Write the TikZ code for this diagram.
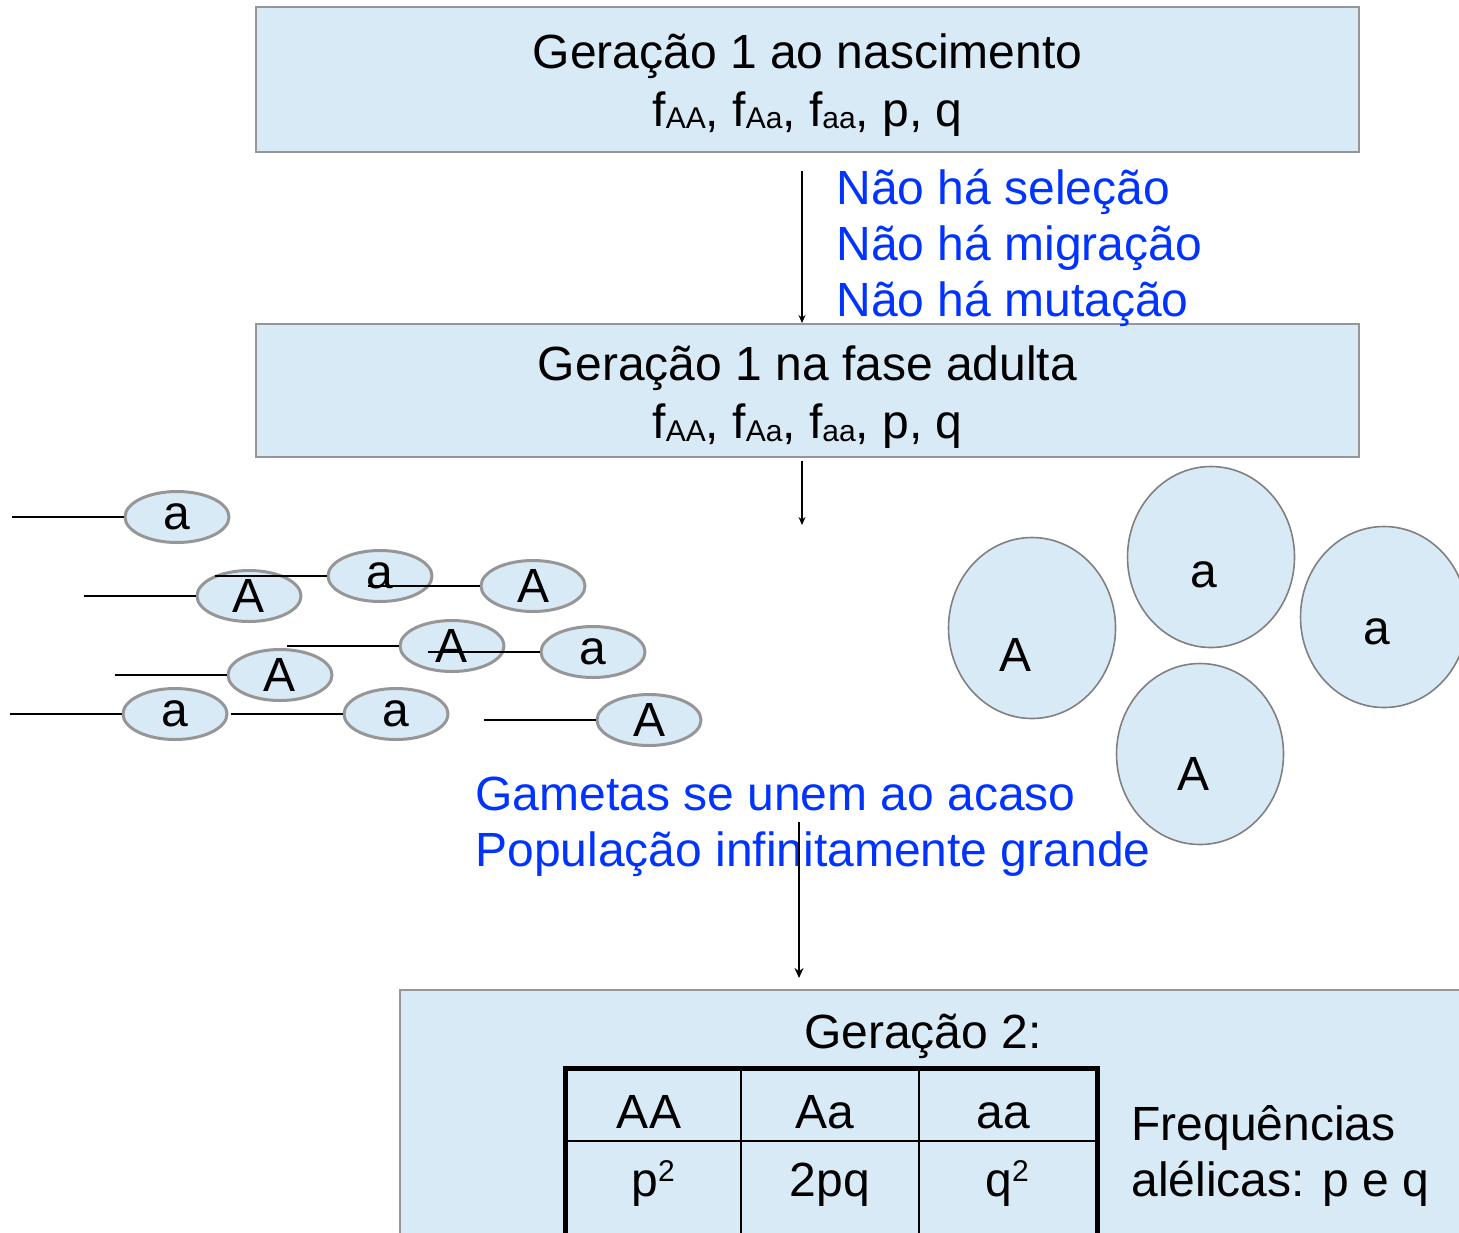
\documentclass[tikz,border=0pt]{standalone}
\usepackage{fontspec}
\setmainfont{Liberation Sans}
\usetikzlibrary{arrows.meta,shapes.geometric,positioning}
\definecolor{cellblue}{RGB}{217,234,247}
\definecolor{textblue}{RGB}{0,51,255}
\definecolor{rimgray}{RGB}{150,150,150}
\newcommand{\gsub}[1]{\raisebox{-0.06em}{\fontsize{15}{15}\selectfont #1}}
\newcommand{\gsup}[1]{\raisebox{0.31em}{\fontsize{15}{15}\selectfont #1}}
\newcommand{\freqs}{f\gsub{AA}, f\gsub{Aa}, f\gsub{aa}, p, q}

\begin{document}
\begin{tikzpicture}[
    x=0.5pt, y=-0.5pt,
    every node/.style={font=\fontsize{24}{28}\selectfont},
    genbox/.style={draw=rimgray, line width=1pt, fill=cellblue, inner sep=0pt,
      minimum width=551.5pt, align=center, font=\fontsize{24}{29}\selectfont},
    gamete/.style={ellipse, draw=rimgray, line width=1.5pt, fill=cellblue,
      inner sep=0pt, minimum width=52pt, minimum height=25.5pt},
    cell/.style={ellipse, draw=rimgray!85!black, line width=0.8pt, fill=cellblue,
      inner sep=0pt, minimum width=83.5pt, minimum height=90.5pt},
    note/.style={text=textblue, align=left, anchor=base west, inner sep=0pt},
    plain/.style={align=left, anchor=base west, inner sep=0pt},
    flow/.style={-{Stealth[length=4pt,width=3.5pt]}, line width=0.6pt},
    tail/.style={line width=1pt}
  ]
  \useasboundingbox (0,0) rectangle (1459,1232);
  \clip (0,0) rectangle (1459,1232);

  % generation 1
  \node[genbox, minimum height=72.5pt] (birth) at (807.5,79.5)
    {\rule{0pt}{22.5pt}Geração 1 ao nascimento\\ \freqs};
  \node[genbox, minimum height=66.5pt] (adult) at (807.5,390.5)
    {\rule{0pt}{24pt}Geração 1 na fase adulta\\ \freqs};
  \node[note] (rules) at (836,316)
    {Não há seleção\\Não há migração\\Não há mutação};
  \draw[flow] ([xshift=-2.75pt,yshift=-9pt]birth.south) -- ([xshift=-2.75pt]adult.north);
  \coordinate (pool) at (802,525);
  \draw[flow] ([xshift=-2.75pt,yshift=-1.5pt]adult.south) -- (pool);

  % gametes
  \foreach \n/\x/\y/\t in {1/177/517/a, 2/249/596/A, 3/380/576/a, 4/533/586/A,
      5/452/646/A, 6/593/652/a, 7/280/675/A, 8/175/714/a, 9/396/714/a, 10/649/720/A}
    \node[gamete] (g\n) at (\x,\y) {\t};
  \foreach \n in {1,...,10}
    \draw[tail] (g\n.west) -- ++(-112,0);

  % zygotes
  \node[cell] (z1) at (1032,628) {};
  \node[cell] (z2) at (1211,557) {};
  \node[cell] (z3) at (1384,617) {};
  \node[cell] (z4) at (1200,754) {};
  \node (z1t) at ([xshift=-8.5pt,yshift=-13.5pt]z1.center) {A};
  \node (z2t) at ([xshift=-3.5pt,yshift=-9pt]z2.center) {a};
  \node (z3t) at ([xshift=-3.5pt,yshift=-7.5pt]z3.center) {a};
  \node (z4t) at ([xshift=-3.5pt,yshift=-10pt]z4.center) {A};

  % generation 2
  \node[note] (union) at (475,866)
    {Gametas se unem ao acaso\\População infinitamente grande};
  \node[draw=rimgray, line width=1pt, fill=cellblue, anchor=north west,
    minimum width=540pt, minimum height=130pt] (gen2) at (399,989) {};
  \coordinate (mix) at (799,822);
  \draw[flow, line width=1pt, -{Stealth[length=5pt,width=4.5pt]}, shorten >=5.5pt]
    (mix) -- (mix |- gen2.north);
  \node[anchor=base] (title2) at (923,1048) {Geração 2:};

  \draw[line width=2.5pt] (565,1250) -- (565,1068) -- (1097,1068) -- (1097,1250);
  \draw[line width=1pt] (741,1068) -- (741,1250) (919,1068) -- (919,1250)
    (565,1141) -- (1097,1141);
  \node[anchor=base] (hAA) at (649,1128) {AA};
  \node[anchor=base] (hAa) at (825,1128) {Aa};
  \node[anchor=base] (haa) at (1003,1128) {aa};
  \node[anchor=base] (fAA) at (653,1196) {p\gsup{2}};
  \node[anchor=base] (fAa) at (830,1196) {2pq};
  \node[anchor=base] (faa) at (1007,1196) {q\gsup{2}};
  \node[plain] (alleles) at (1131,1196) {Frequências\\alélicas: p e q};
\end{tikzpicture}
\end{document}
